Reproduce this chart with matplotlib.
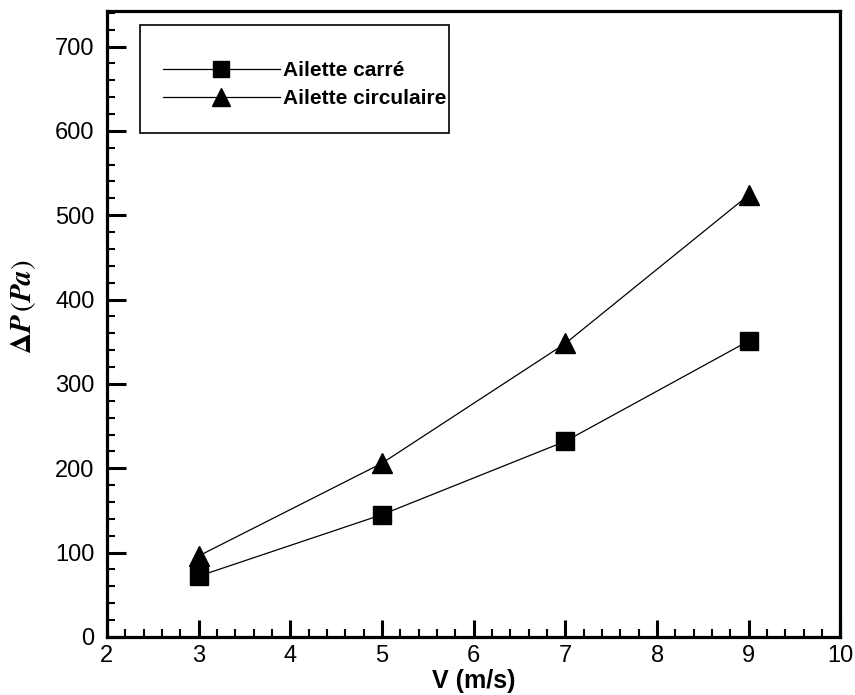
import matplotlib
matplotlib.use('Agg')
import matplotlib.pyplot as plt
from matplotlib.patches import Rectangle
from matplotlib.ticker import MultipleLocator

# donnees
vitesse = [3, 5, 7, 9]
dp_carre = [72, 145, 232, 351]
dp_circulaire = [96, 206, 348, 524]
nom_carre = 'Ailette carré'
nom_circ = 'Ailette circulaire'

plt.rcParams['font.family'] = ['Liberation Sans', 'DejaVu Sans']
plt.rcParams['mathtext.fontset'] = 'stix'

fig = plt.figure(figsize=(8.55, 6.95), dpi=100)
ax = fig.add_axes([0.125, 0.0835, 0.858, 0.9005])

ax.plot(vitesse, dp_carre, color='black', lw=0.9, marker='s', ms=13.5,
        label=nom_carre)
ax.plot(vitesse, dp_circulaire, color='black', lw=0.9, marker='^', ms=14,
        label=nom_circ)

ax.set_xlim(2, 10)
ax.set_ylim(0, 742)
ax.xaxis.set_major_locator(MultipleLocator(1))
ax.xaxis.set_minor_locator(MultipleLocator(0.2))
ax.yaxis.set_major_locator(MultipleLocator(100))
ax.yaxis.set_minor_locator(MultipleLocator(20))

for s in ax.spines.values():
    s.set_linewidth(2.3)
ax.tick_params(which='major', direction='in', length=13, width=2.2,
               labelsize=17, top=False, right=False)
ax.tick_params(which='minor', direction='in', length=6, width=1.5,
               top=False, right=False)
ax.tick_params(axis='y', which='major', length=14, pad=9)
ax.tick_params(axis='x', which='major', length=12, pad=6)

ax.set_xlabel('V (m/s)', fontsize=18, fontweight='bold')
ax.xaxis.set_label_coords(0.5, -0.051)
ax.set_ylabel(r'$\mathbf{\Delta}\boldsymbol{P}\,(\boldsymbol{Pa})$', fontsize=21)
ax.yaxis.set_label_coords(-0.094, 0.527)

# cadre de la legende
ax.add_patch(Rectangle((0.045, 0.805), 0.422, 0.173, transform=ax.transAxes,
                       fill=False, edgecolor='black', lw=1.2, zorder=5))
ax.legend(loc='center left', bbox_to_anchor=(0.0764, 0.8826),
          prop={'weight': 'bold', 'size': 15}, handlelength=5.6,
          handletextpad=0.15, borderpad=0, labelspacing=0.42,
          markerscale=0.9, frameon=False, borderaxespad=0)

fig.savefig('out.png', dpi=100)
